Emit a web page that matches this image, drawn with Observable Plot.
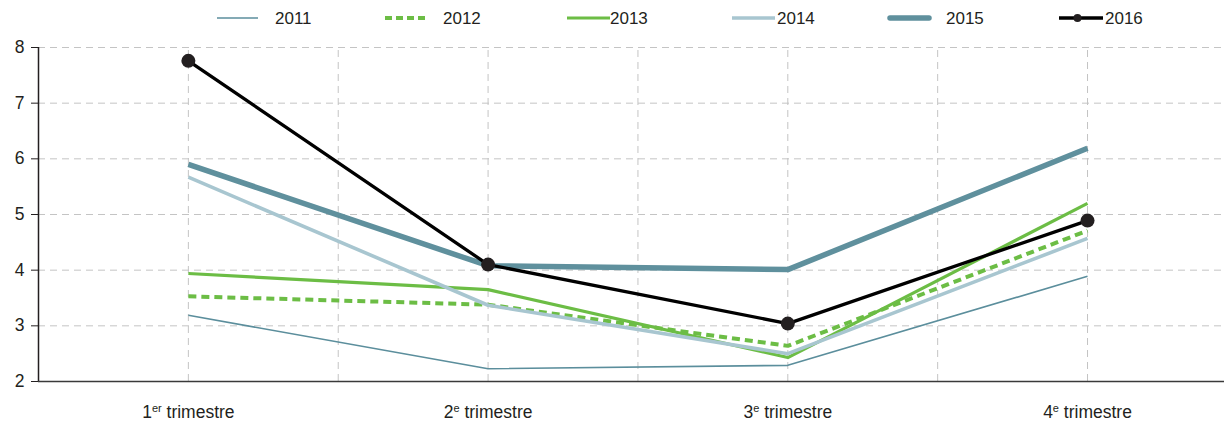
<!DOCTYPE html>
<html><head><meta charset="utf-8">
<script src="https://cdn.jsdelivr.net/npm/d3@7"></script>
<script src="https://cdn.jsdelivr.net/npm/@observablehq/plot@0.6"></script>
<style>
body{margin:0;background:#fff;font-family:"Liberation Sans",Arial,sans-serif;}
#wrap{position:relative;width:1224px;height:423px;}
#legend{position:absolute;left:0;top:0;width:1224px;height:38px;}
.sw{position:absolute;top:11px;}
.lt{position:absolute;top:9px;font-size:17px;color:#231f20;line-height:20px;}
</style></head><body>
<div id="wrap"><div id="chart"></div><div id="legend"></div></div>
<script>
// ---- data ----
const quarters = ["1er trimestre", "2e trimestre", "3e trimestre", "4e trimestre"];
const years = ["2011", "2012", "2013", "2014", "2015", "2016"];
const v2011 = [3.19, 2.23, 2.29, 3.89];
const v2012 = [3.53, 3.38, 2.64, 4.71];
const v2013 = [3.94, 3.65, 2.43, 5.20];
const v2014 = [5.67, 3.37, 2.50, 4.57];
const v2015 = [5.90, 4.08, 4.01, 6.19];
const v2016 = [7.76, 4.10, 3.04, 4.89];
const yTicks = [2, 3, 4, 5, 6, 7, 8];

const seriesValues = {"2011": v2011, "2012": v2012, "2013": v2013, "2014": v2014, "2015": v2015, "2016": v2016};
const rows = years.flatMap(y => seriesValues[y].map((v, i) => ({year: y, q: i, value: v})));

// ---- styles ----
const styles = {
  "2011": {stroke: "#5b8e9c", strokeWidth: 1.6},
  "2012": {stroke: "#6cbd45", strokeWidth: 4, strokeDasharray: "8,5"},
  "2013": {stroke: "#6cbd45", strokeWidth: 3.2},
  "2014": {stroke: "#a8c6d0", strokeWidth: 3.6},
  "2015": {stroke: "#5f909d", strokeWidth: 5.5},
  "2016": {stroke: "#000000", strokeWidth: 3.3}
};

const lineMarks = years.map(y => Plot.line(rows.filter(d => d.year === y), {
  x: "q", y: "value", ...styles[y], strokeLinejoin: "round", strokeLinecap: "butt"
}));

const chart = Plot.plot({
  width: 1224,
  height: 423,
  marginTop: 47,
  marginBottom: 42,
  marginLeft: 38,
  marginRight: 0,
  style: {fontFamily: "'Liberation Sans', Arial, sans-serif", color: "#231f20", background: "#fff"},
  x: {type: "linear", domain: [-0.5, 3.457]},
  y: {domain: [2, 8]},
  marks: [
    Plot.gridY(yTicks.slice(1), {stroke: "#c4c4c4", strokeOpacity: 1, strokeDasharray: "7,5"}),
    Plot.ruleX(d3.range(0, 3.01, 0.5), {y1: 2, y2: 8, stroke: "#c4c4c4", strokeDasharray: "7,5"}),
    ...lineMarks,
    Plot.dot(rows.filter(d => d.year === "2016"), {x: "q", y: "value", r: 7, fill: "#231f20", stroke: "none"}),
    Plot.ruleX([-0.5], {y1: 2, y2: 8, stroke: "#231f20", strokeWidth: 1.5}),
    Plot.ruleY([2], {stroke: "#3a3a3a", strokeWidth: 1.5}),
    Plot.axisY({ticks: yTicks, tickSize: 7, tickPadding: 7, fontSize: 17.5, label: null, stroke: "#231f20", tickFormat: d => String(d)}),
    Plot.axisX({ticks: [0, 1, 2, 3], tickSize: 0, tickPadding: 24, fontSize: 17.5, label: null, tickFormat: i => quarters[i]})
  ]
});
document.getElementById("chart").appendChild(chart);

// superscripts on x tick labels
chart.querySelectorAll('g[aria-label="x-axis tick label"] text').forEach(t => {
  const m = t.textContent.match(/^(\d)(er|e) (.*)$/);
  if (!m) return;
  t.textContent = "";
  const ns = "http://www.w3.org/2000/svg";
  const a = document.createElementNS(ns, "tspan"); a.textContent = m[1];
  const b = document.createElementNS(ns, "tspan"); b.textContent = m[2];
  b.setAttribute("font-size", "11"); b.setAttribute("dy", "-6");
  const c = document.createElementNS(ns, "tspan"); c.textContent = " " + m[3];
  c.setAttribute("dy", "6");
  t.append(a, b, c);
});

// ---- legend ----
const legendLayout = {
  "2011": {sx: 217, sw: 41, tx: 275},
  "2012": {sx: 385, sw: 43, tx: 443},
  "2013": {sx: 567, sw: 43, tx: 610},
  "2014": {sx: 732, sw: 43, tx: 777},
  "2015": {sx: 887, sw: 45, tx: 946},
  "2016": {sx: 1059, sw: 44, tx: 1105}
};
const leg = d3.select("#legend");
years.forEach(y => {
  const L = legendLayout[y], s = styles[y];
  const svg = leg.append("svg").attr("class", "sw").style("left", L.sx + "px")
    .attr("width", L.sw).attr("height", 14);
  svg.append("line").attr("x1", y === "2015" ? 3 : 0).attr("x2", y === "2015" ? L.sw - 3 : L.sw)
    .attr("y1", 7).attr("y2", 7)
    .attr("stroke", s.stroke).attr("stroke-width", s.strokeWidth)
    .attr("stroke-dasharray", y === "2012" ? "7,4" : null)
    .attr("stroke-linecap", y === "2015" ? "round" : "butt");
  if (y === "2016") svg.append("circle").attr("cx", L.sw * 0.42).attr("cy", 7).attr("r", 4).attr("fill", "#231f20");
  leg.append("div").attr("class", "lt").style("left", L.tx + "px").text(y);
});
</script>
</body></html>
